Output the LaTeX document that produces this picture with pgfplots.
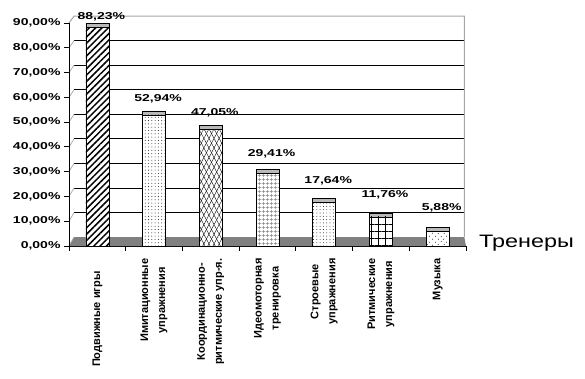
\documentclass[border=0pt]{standalone}
\usepackage{fontspec}
\setmainfont{Liberation Sans}
\usepackage{graphicx}
\usepackage{pgfplots}
\pgfplotsset{compat=1.18}
\usetikzlibrary{patterns,patterns.meta}
\newcommand\nb[1]{\scalebox{1.4}[1]{\bfseries\fontsize{10}{12}\selectfont #1}}
\begin{document}
\begin{tikzpicture}
\begin{axis}[
  at={(0,0)}, anchor=south west,
  scale only axis, width=397pt, height=230pt,
  xmin=-0.5, xmax=6.5, ymin=0, ymax=92.82,
  clip=false,
  axis x line=bottom, axis y line=left,
  axis line style={-, black, line width=0.8pt},
  y axis line style={draw=none},
  ytick={0,10,...,90},
  yticklabels={{\nb{0,00\%}},{\nb{10,00\%}},{\nb{20,00\%}},{\nb{30,00\%}},{\nb{40,00\%}},{\nb{50,00\%}},{\nb{60,00\%}},{\nb{70,00\%}},{\nb{80,00\%}},{\nb{90,00\%}}},
  tick align=outside, major tick length=5pt,
  ytick style={black, line width=0.8pt},
  xtick={0,...,6},
  xtick style={draw=none},
  xticklabels={{Подвижные игры\hspace*{13pt}},{Имитационные\\упражнения},{Координационно-\\ритмические упр-я.},{Идеомоторная\\тренировка},{Строевые\\упражнения},{Ритмические\\упражнения},{Музыка}},
  xticklabel style={yshift=-4pt, rotate=90, anchor=east, align=center, font=\bfseries\fontsize{11}{17}\selectfont},
]
% floor
\fill[gray] (axis cs:-0.41,3.63) -- (axis cs:6.47,3.63) -- (axis cs:6.5,0) -- (axis cs:-0.5,0) -- cycle;
% back wall grid
\pgfplotsinvokeforeach{13.54,23.45,33.36,43.27,53.18,63.09,73.0,82.91}{
  \draw[black, line width=0.7pt] (axis cs:-0.41,#1) -- (axis cs:6.47,#1);
}
\draw[gray!70, line width=1pt] (axis cs:-0.5,90) -- (axis cs:-0.41,92.82) -- (axis cs:6.47,92.82) -- (axis cs:6.47,3.63);
% left wall connectors
\draw[gray!70, line width=0.7pt] (axis cs:-0.5,10) -- (axis cs:-0.41,13.54);
\draw[gray!70, line width=0.7pt] (axis cs:-0.5,20) -- (axis cs:-0.41,23.45);
\draw[gray!70, line width=0.7pt] (axis cs:-0.5,30) -- (axis cs:-0.41,33.36);
\draw[gray!70, line width=0.7pt] (axis cs:-0.5,40) -- (axis cs:-0.41,43.27);
\draw[gray!70, line width=0.7pt] (axis cs:-0.5,50) -- (axis cs:-0.41,53.18);
\draw[gray!70, line width=0.7pt] (axis cs:-0.5,60) -- (axis cs:-0.41,63.09);
\draw[gray!70, line width=0.7pt] (axis cs:-0.5,70) -- (axis cs:-0.41,73.0);
\draw[gray!70, line width=0.7pt] (axis cs:-0.5,80) -- (axis cs:-0.41,82.91);
\draw[gray!70, line width=0.7pt] (axis cs:-0.5,0) -- (axis cs:-0.41,3.63);
\draw[black, line width=0.8pt] (axis cs:-0.5,0) -- (axis cs:-0.5,90);
% x ticks at category boundaries
\pgfplotsinvokeforeach{-0.5,0.5,1.5,2.5,3.5,4.5,5.5,6.5}{
  \draw[black, line width=0.8pt] (axis cs:#1,0) -- ++(0pt,-5pt);
}
% bar caps
\addplot[ybar, bar width=23pt, bar shift=0pt, fill=gray!55, draw=black, line width=0.6pt]
  coordinates {(0,89.83) (1,54.54) (2,48.65) (3,31.01) (4,19.24) (5,13.36) (6,7.48)};
% bar fronts
\addplot[ybar, bar width=23pt, bar shift=0pt, fill=white, draw=black, line width=0.6pt,
  postaction={pattern={Lines[angle=45,distance=4.5pt,line width=1.5pt]}}]
  coordinates {(0,88.23)};
\addplot[ybar, bar width=23pt, bar shift=0pt, fill=white, draw=black, line width=0.6pt,
  postaction={pattern={Dots[distance=3.3pt,radius=0.45pt]}}]
  coordinates {(1,52.94)};
\addplot[ybar, bar width=23pt, bar shift=0pt, fill=white, draw=black, line width=0.6pt,
  postaction={pattern={Lines[angle=62,distance=4.5pt,line width=0.4pt]}},
  postaction={pattern={Lines[angle=118,distance=4.5pt,line width=0.4pt]}}]
  coordinates {(2,47.05)};
\addplot[ybar, bar width=23pt, bar shift=0pt, fill=white, draw=black, line width=0.6pt,
  postaction={pattern={Hatch[angle=0,distance=4pt,line width=0.4pt]}, pattern color=gray}]
  coordinates {(3,29.41)};
\addplot[ybar, bar width=23pt, bar shift=0pt, fill=white, draw=black, line width=0.6pt,
  postaction={pattern={Dots[distance=3.3pt,radius=0.45pt]}}]
  coordinates {(4,17.64)};
\addplot[ybar, bar width=23pt, bar shift=0pt, fill=white, draw=black, line width=0.6pt,
  postaction={pattern={Hatch[angle=0,distance=7pt,line width=0.8pt]}}]
  coordinates {(5,11.76)};
\addplot[ybar, bar width=23pt, bar shift=0pt, fill=white, draw=black, line width=0.6pt,
  postaction={pattern={Dots[angle=45,distance=4pt,radius=0.5pt]}}]
  coordinates {(6,5.88)};
% value labels
\addplot[draw=none, mark=none,
  nodes near coords={\nb{\pgfmathprintnumber[fixed,fixed zerofill,precision=2,use comma,assume math mode=true]{\pgfplotspointmeta}\%}},
  point meta=y,
  visualization depends on={y \as \myy},
  every node near coord/.append style={anchor=center, xshift=4pt, yshift={(24.4-0.159*\myy)*1pt}, inner sep=0pt}]
  coordinates {(0,88.23) (1,52.94) (2,47.05) (3,29.41) (4,17.64) (5,11.76) (6,5.88)};
\node[anchor=base west, inner sep=0pt] at (axis cs:6.5,0) [xshift=13pt, yshift=-1pt] {\scalebox{1.3}[1]{\fontsize{18}{20}\selectfont Тренеры}};
\end{axis}
\path[use as bounding box] (-69pt,-132pt) rectangle (516pt,246pt);
\end{tikzpicture}
\end{document}
